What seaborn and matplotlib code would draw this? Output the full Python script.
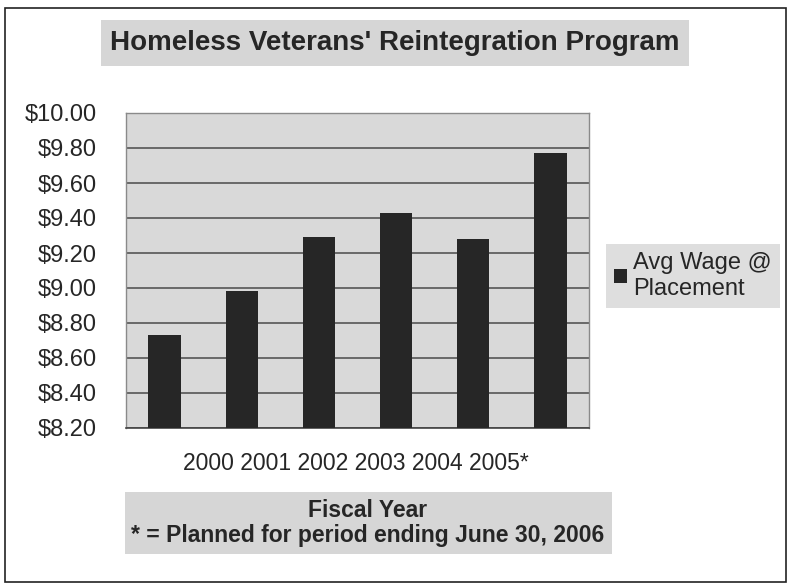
import matplotlib
matplotlib.use('Agg')
import matplotlib.pyplot as plt
import seaborn as sns
import pandas as pd
from matplotlib.patches import Rectangle

years = ['2000', '2001', '2002', '2003', '2004', '2005*']
wages = [8.73, 8.98, 9.29, 9.43, 9.28, 9.77]
yticks = [8.2, 8.4, 8.6, 8.8, 9.0, 9.2, 9.4, 9.6, 9.8, 10.0]
series_name = 'Avg Wage @\nPlacement'

df = pd.DataFrame({'year': years, 'wage': wages})

sns.set_style('white')
plt.rcParams['font.family'] = ['Liberation Sans', 'DejaVu Sans']

fig = plt.figure(figsize=(7.91, 5.88), dpi=100)
ax = fig.add_axes([126/791, 1-428/588, (589-126)/791, (428-113)/588])
ax.set_facecolor('#d9d9d9')

sns.barplot(data=df, x='year', y='wage', color='#262626', width=0.42,
            saturation=1, label=series_name, linewidth=0, ax=ax, zorder=3)

ax.set_ylim(8.2, 10.0)
ax.set_xlim(-0.5, len(years) - 0.5)
ax.set_yticks(yticks)
ax.set_yticklabels(['${:.2f}'.format(v) for v in yticks], fontsize=17)
ax.yaxis.grid(True, color='#4a4a4a', linewidth=1.1, zorder=1)
ax.set_axisbelow(True)
ax.tick_params(axis='y', length=0, pad=21)

# excel style: ticks between categories, labels drawn as one line below
ax.set_xticks(range(len(years)))
ax.set_xticklabels([])
ax.tick_params(axis='x', which='major', length=0)
ax.set_xticks([i + 0.5 for i in range(len(years) - 1)], minor=True)
ax.tick_params(axis='x', which='minor', length=4, color='#444', direction='out')
ax.set_xlabel('')
ax.set_ylabel('')

for s in ['top', 'right', 'left']:
    ax.spines[s].set_color('#8a8a8a')
    ax.spines[s].set_linewidth(1)
ax.spines['bottom'].set_color('#444')
ax.spines['bottom'].set_linewidth(1.2)

fig.text(356/791, 1-463/588, ' '.join(years), fontsize=16.5, ha='center', va='center')

fig.text(395/791, 1-43/588, "Homeless Veterans' Reintegration Program", fontsize=20,
         fontweight='bold', ha='center', va='center',
         bbox=dict(facecolor='#d6d6d6', edgecolor='none', boxstyle='square,pad=0.35'))

fig.text(368/791, 1-523/588, 'Fiscal Year\n* = Planned for period ending June 30, 2006',
         fontsize=16.5, fontweight='bold', ha='center', va='center', linespacing=1.1,
         bbox=dict(facecolor='#d6d6d6', edgecolor='none', boxstyle='square,pad=0.3'))

handles, labels = ax.get_legend_handles_labels()
leg = ax.legend(handles, labels, loc='upper left', bbox_to_anchor=(606/791, 1-244/588),
                bbox_transform=fig.transFigure, fontsize=17, frameon=True,
                handlelength=0.55, handleheight=0.55, handletextpad=0.25,
                borderpad=0.35, borderaxespad=0, fancybox=False, labelspacing=0)
leg.get_frame().set_facecolor('#d6d6d6')
leg.get_frame().set_edgecolor('none')
for t in leg.get_texts():
    t.set_linespacing(1.2)

fig.patches.append(Rectangle((5/791, 6/588), 781/791, 574/588, transform=fig.transFigure,
                             fill=False, edgecolor='#222', linewidth=1.2))

fig.savefig('out.png', dpi=100)
